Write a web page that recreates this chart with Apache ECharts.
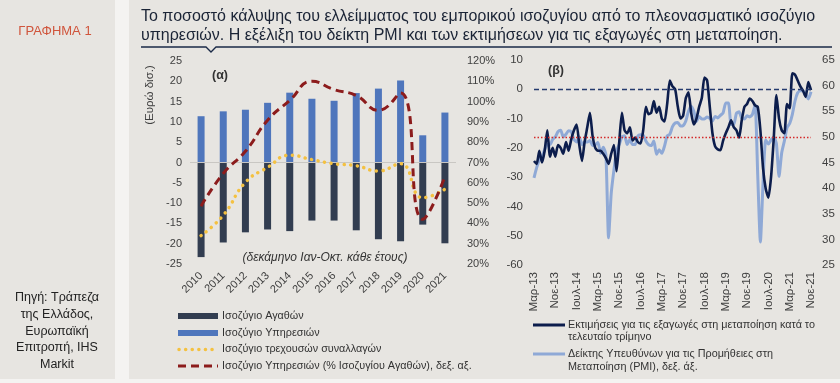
<!DOCTYPE html>
<html><head><meta charset="utf-8">
<script src="https://cdn.jsdelivr.net/npm/echarts@6/dist/echarts.min.js"></script>
<style>html,body{margin:0;padding:0;background:#f4f3f1}#c{width:840px;height:383px}</style>
</head><body><div id="c"></div>
<script>
// ---- Panel (α) ----
const years = ['2010','2011','2012','2013','2014','2015','2016','2017','2018','2019','2020','2021'];
const goodsBalance = [-23.3,-19.7,-17.2,-16.5,-16.9,-14.3,-14.3,-16.7,-18.9,-19.4,-15.3,-19.9];
const servicesBalance = [11.4,12.6,13.0,14.7,17.2,15.7,15.2,17.1,18.2,20.2,6.7,12.3];
const currentAccount = [-18.0,-13.0,-4.9,-1.2,1.8,0.7,-0.3,-0.8,-2.1,-0.3,-8.7,-6.6];
const coveragePct = [48.5,64.6,75.5,90.8,100.6,110.0,105.9,103.0,95.7,104.2,42.0,63.0];
const leftTicksA = {min:-25,max:25,interval:5};
const rightTicksA = {min:20,max:120,interval:10};

// ---- Panel (β) ----  monthly, Mar-13 .. Nov-21
const monthNames = ['Ιαν','Φεβ','Μαρ','Απρ','Μαϊ','Ιουν','Ιουλ','Αυγ','Σεπ','Οκτ','Νοε','Δεκ'];
const startYear = 2013, startMonth = 2, nMonths = 105;
const exportExpectations = [
 -24.5,-25.5,-21,-25,-21,-14,-23,-20,-23,-19,
 -20,-22,-18,-21,-17,-14,-12,-19,-24.5,-18,
 -13,-8,-16,-20,-21,-21,-22,-23.5,-25.5,-22,
 -19,-28,-18,-8,-14,-15,-13,-17.5,-16.5,-18,
 -18.5,-14,-6,-8.5,-8,-4,-8,-6,-10,-11,
 -5,3,1,0,-6,-10,-9,-3,-1,-8,
 -12,-10,-6,-3,4,3,-6,-15,-19.5,-20.5,
 -20.8,-17.5,-15,-13,-10.6,-12.9,-14,-16.5,-10.6,-6,
 -5,-3.2,-4,-5.5,-6,-14,-27,-34,-37,-30,
 -17,-2,-10,-14,-15,-5,-6.5,5.5,5,3,
 1,-0.5,-2.6,2.5,-0.3];
const pmi = [
 42,44,45.5,46,47.5,48.5,48.5,49.5,50,51,
 51.3,50,50.5,51.2,51,49.5,49,50,48.5,49,
 49,49.3,48.3,48.5,48.9,46.8,48,46.5,30.3,39,
 43.5,47.3,48.5,50,50.2,48.5,49.5,48.5,48.5,50.2,
 50.4,50.3,49.2,48.5,48.3,49.2,46.6,47.5,46.8,48.2,
 50.2,50.5,52,52.7,52.8,52.1,52.2,53.1,55,56,
 55,53,54,53.5,53.5,53.9,53.6,53.1,54,53.7,
 54.2,54.7,56.6,56.6,52.4,52.4,54.6,54.9,53.6,53.5,
 54.1,53.9,54.4,56.2,42.5,29.5,41.1,49.4,48.6,49.4,
 50,48.7,42.3,46.9,49.2,51.8,52.6,54.4,57,58.6,
 59,59,58.4,57.4,58.8];
const leftTicksB = {min:-60,max:10,interval:10};
const rightTicksB = {min:25,max:65,interval:5};
const pmiThreshold = 50;

const months = [];
for (let i = 0; i < nMonths; i++) {
  const mi = (startMonth + i) % 12;
  const y = startYear + Math.floor((startMonth + i) / 12);
  months.push(monthNames[mi] + '-' + String(y).slice(2));
}

const C = {
  goods:'#323d50', services:'#4f76bc', ca:'#f4c141', cov:'#8c1c1c',
  navy:'#0c1d4c', light:'#8fa9d6', axis:'#404040', text:'#333333'
};
const FONT = 'Liberation Sans, Arial, sans-serif';

const chart = echarts.init(document.getElementById('c'), null, {renderer:'canvas'});

function txt(x, y, text, opts) {
  opts = opts || {};
  return {type:'text', x:x, y:y, rotation:opts.rotation||0, z:opts.z||10,
    style:{text:text, font:(opts.font||'10.8px ' + FONT), fill:opts.fill||C.text,
      align:opts.align||'left', verticalAlign:opts.va||'middle'}};
}

const graphics = [
  {type:'rect', shape:{x:0,y:0,width:115,height:379}, style:{fill:'#e7e5e1'}, z:-10},
  {type:'rect', shape:{x:129,y:0,width:711,height:379}, style:{fill:'#e7e5e1'}, z:-10},
  txt(55, 31, 'ΓΡΑΦΗΜΑ 1', {font:'13px ' + FONT, fill:'#d0553c', align:'center'}),
  txt(57, 298, 'Πηγή: Τράπεζα', {font:'12.5px ' + FONT, fill:'#222', align:'center'}),
  txt(57, 315, 'της Ελλάδος,', {font:'12.5px ' + FONT, fill:'#222', align:'center'}),
  txt(57, 332, 'Ευρωπαϊκή', {font:'12.5px ' + FONT, fill:'#222', align:'center'}),
  txt(57, 348, 'Επιτροπή, IHS', {font:'12.5px ' + FONT, fill:'#222', align:'center'}),
  txt(57, 365, 'Markit', {font:'12.5px ' + FONT, fill:'#222', align:'center'}),
  txt(141, 17, 'Το ποσοστό κάλυψης του ελλείμματος του εμπορικού ισοζυγίου από το πλεονασματικό ισοζύγιο', {font:'16px ' + FONT, fill:'#1b2436'}),
  txt(141, 36, 'υπηρεσιών. Η εξέλιξη του δείκτη PMI και των εκτιμήσεων για τις εξαγωγές στη μεταποίηση.', {font:'16px ' + FONT, fill:'#1b2436'}),
  {type:'polyline', shape:{points:[[141,47],[206,47],[211,52],[216,47],[832,47]]}, style:{stroke:'#1b2a47', lineWidth:1.3, fill:null}},
  txt(150, 95, '(Ευρώ δισ.)', {rotation:Math.PI/2, align:'center', fill:C.axis, font:'11.5px ' + FONT}),
  txt(212, 76, '(α)', {font:'bold 12.5px ' + FONT, fill:'#333'}),
  txt(548, 71, '(β)', {font:'bold 12.5px ' + FONT, fill:'#333'}),
  txt(325, 258, '(δεκάμηνο Ιαν-Οκτ. κάθε έτους)', {font:'italic 12px ' + FONT, fill:'#333', align:'center'}),
  // legend (α)
  {type:'rect', shape:{x:178,y:313,width:40,height:6}, style:{fill:C.goods}},
  txt(222, 316, 'Ισοζύγιο Αγαθών'),
  {type:'rect', shape:{x:178,y:330,width:40,height:6}, style:{fill:C.services}},
  txt(222, 333, 'Ισοζύγιο Υπηρεσιών'),
  {type:'line', shape:{x1:179,y1:349.5,x2:218,y2:349.5}, style:{stroke:C.ca, lineWidth:3.5, lineDash:[0.1,6.5], lineCap:'round'}},
  txt(222, 349.5, 'Ισοζύγιο τρεχουσών συναλλαγών'),
  {type:'line', shape:{x1:178,y1:366,x2:218,y2:366}, style:{stroke:C.cov, lineWidth:3, lineDash:[8,5]}},
  txt(222, 366, 'Ισοζύγιο Υπηρεσιών (% Ισοζυγίου Αγαθών), δεξ. αξ.'),
  // legend (β)
  {type:'line', shape:{x1:533,y1:325,x2:565,y2:325}, style:{stroke:C.navy, lineWidth:3}},
  txt(568, 325.5, 'Εκτιμήσεις για τις εξαγωγές στη μεταποίηση κατά το'),
  txt(568, 337.5, 'τελευταίο τρίμηνο'),
  {type:'line', shape:{x1:533,y1:354,x2:565,y2:354}, style:{stroke:C.light, lineWidth:3}},
  txt(568, 354.5, 'Δείκτης Υπευθύνων για τις Προμήθειες στη'),
  txt(568, 367, 'Μεταποίηση (PMI), δεξ. άξ.')
];

const axisLbl = {color:C.axis, fontSize:11, fontFamily:FONT};

chart.setOption({
  backgroundColor:'#f4f3f1',
  animation:false,
  textStyle:{fontFamily:FONT},
  graphic:graphics,
  grid:[
    {left:190, top:61, width:266, height:203},
    {left:534, top:60, width:277, height:205}
  ],
  xAxis:[
    {type:'category', gridIndex:0, data:years, boundaryGap:true,
      axisLine:{show:false}, axisTick:{show:false},
      axisLabel:Object.assign({rotate:45, margin:10, interval:0}, axisLbl)},
    {type:'category', gridIndex:1, data:months, boundaryGap:false,
      axisLine:{show:false}, axisTick:{show:false},
      axisLabel:Object.assign({rotate:90, margin:7, interval:function(i){return i % 8 === 0;}}, axisLbl, {fontSize:11.5})}
  ],
  yAxis:[
    {type:'value', gridIndex:0, position:'left', min:leftTicksA.min, max:leftTicksA.max, interval:leftTicksA.interval,
      splitLine:{show:false}, axisLine:{show:false}, axisTick:{show:false},
      axisLabel:Object.assign({margin:8}, axisLbl)},
    {type:'value', gridIndex:0, position:'right', min:rightTicksA.min, max:rightTicksA.max, interval:rightTicksA.interval,
      splitLine:{show:false}, axisLine:{show:false}, axisTick:{show:false},
      axisLabel:Object.assign({margin:11, formatter:'{value}%'}, axisLbl)},
    {type:'value', gridIndex:1, position:'left', min:leftTicksB.min, max:leftTicksB.max, interval:leftTicksB.interval,
      splitLine:{show:false}, axisLine:{show:false}, axisTick:{show:false},
      axisLabel:Object.assign({margin:11}, axisLbl, {fontSize:11.5})},
    {type:'value', gridIndex:1, position:'right', min:rightTicksB.min, max:rightTicksB.max, interval:rightTicksB.interval,
      splitLine:{show:false}, axisLine:{show:false}, axisTick:{show:false},
      axisLabel:Object.assign({margin:11}, axisLbl, {fontSize:11.5})}
  ],
  series:[
    {name:'Ισοζύγιο Αγαθών', type:'bar', xAxisIndex:0, yAxisIndex:0, data:goodsBalance,
      barWidth:7, barGap:'-100%', itemStyle:{color:C.goods},
      markLine:{silent:true, symbol:'none', label:{show:false}, lineStyle:{color:'#c9c7c3', width:1, type:'solid'}, data:[{yAxis:0}]}},
    {name:'Ισοζύγιο Υπηρεσιών', type:'bar', xAxisIndex:0, yAxisIndex:0, data:servicesBalance,
      barWidth:7, barGap:'-100%', itemStyle:{color:C.services}},
    {name:'Ισοζύγιο τρεχουσών συναλλαγών', type:'line', xAxisIndex:0, yAxisIndex:0, data:currentAccount,
      smooth:true, symbol:'none', z:5, lineStyle:{color:C.ca, width:3.5, type:[0.1,6.5], cap:'round'}},
    {name:'Ισοζύγιο Υπηρεσιών (% Ισοζυγίου Αγαθών)', type:'line', xAxisIndex:0, yAxisIndex:1, data:coveragePct,
      smooth:true, symbol:'none', z:6, lineStyle:{color:C.cov, width:3, type:[8,5]}},
    {name:'PMI', type:'line', xAxisIndex:1, yAxisIndex:3, data:pmi,
      smooth:0.2, symbol:'none', z:3, lineStyle:{color:C.light, width:3},
      markLine:{silent:true, symbol:'none', label:{show:false}, lineStyle:{color:'#d42a2a', width:1.3, type:[1.5,2]}, data:[{yAxis:pmiThreshold}]}},
    {name:'Export expectations', type:'line', xAxisIndex:1, yAxisIndex:2, data:exportExpectations,
      smooth:0.2, symbol:'none', z:4, lineStyle:{color:C.navy, width:2.6},
      markLine:{silent:true, symbol:'none', label:{show:false}, lineStyle:{color:'#243a6e', width:1.3, type:[5,3]}, data:[{yAxis:0}]}}
  ]
});
</script></body></html>
